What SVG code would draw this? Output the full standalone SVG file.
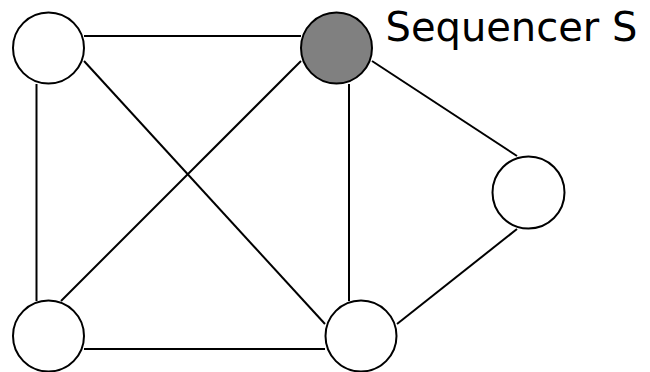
<svg xmlns="http://www.w3.org/2000/svg" width="650" height="372" viewBox="0 0 650 372">
  <style>
    .node { fill: #ffffff; stroke: #000000; stroke-width: 2; }
    .node.seq { fill: #808080; }
    .edge { stroke: #000000; stroke-width: 2; fill: none; }
    .label { font-family: "DejaVu Sans", Verdana, sans-serif; font-size: 40px; fill: #000000; }
  </style>
  <rect width="650" height="372" fill="#ffffff"/>
  <g id="connectors">
    <line class="edge" x1="84" y1="36" x2="301" y2="36"/>
    <line class="edge" x1="36.5" y1="84" x2="36.5" y2="301"/>
    <line class="edge" x1="84" y1="61" x2="325" y2="324"/>
    <line class="edge" x1="301" y1="61" x2="61" y2="301"/>
    <line class="edge" x1="349" y1="84" x2="349" y2="301"/>
    <line class="edge" x1="372" y1="61" x2="517" y2="156"/>
    <line class="edge" x1="517" y1="229" x2="397" y2="324"/>
    <line class="edge" x1="84" y1="349" x2="325" y2="349"/>
  </g>
  <g id="node-top-left"><circle class="node" cx="48.5" cy="48" r="35.5"/></g>
  <g id="node-sequencer">
    <circle class="node seq" cx="336.5" cy="48" r="35.5"/>
    <text class="label" x="385.5" y="40.5">Sequencer S</text>
  </g>
  <g id="node-right"><circle class="node" cx="528.5" cy="192.5" r="36"/></g>
  <g id="node-bottom-left"><circle class="node" cx="48.5" cy="336" r="35.5"/></g>
  <g id="node-bottom-right"><circle class="node" cx="361" cy="336" r="35.5"/></g>
</svg>
